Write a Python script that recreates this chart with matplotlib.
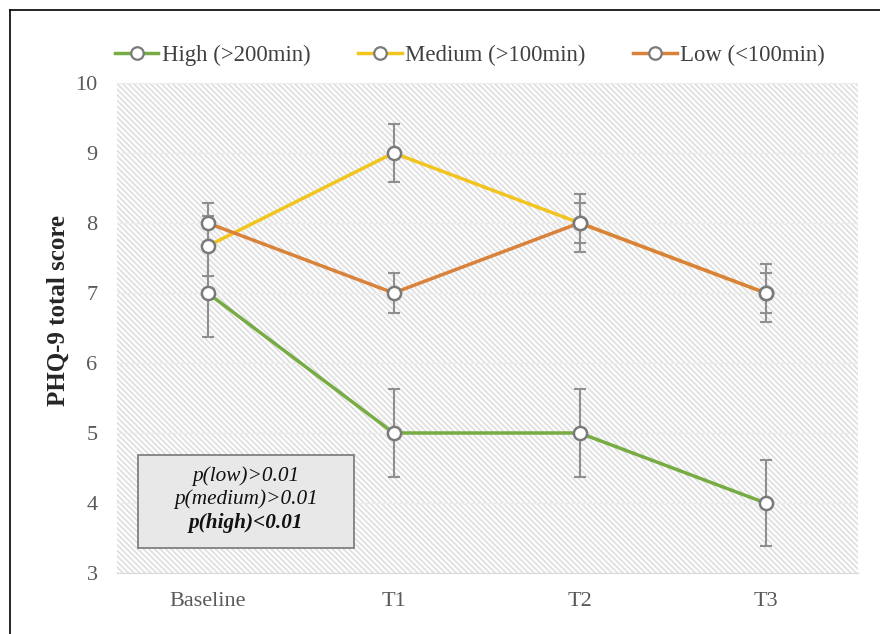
import matplotlib.pyplot as plt
from matplotlib.patches import Rectangle
from matplotlib.lines import Line2D
import numpy as np

categories = ['Baseline', 'T1', 'T2', 'T3']
high = [7, 5, 5, 4]
high_err = [0.63, 0.63, 0.63, 0.62]
medium = [7.67, 9, 8, 7]
medium_err = [0.43, 0.41, 0.41, 0.41]
low = [8, 7, 8, 7]
low_err = [0.29, 0.29, 0.29, 0.29]
labels = ['High (>200min)', 'Medium (>100min)', 'Low (<100min)']
colors = ['#77ab43', '#f2c41f', '#d9823b']

plt.rcParams['font.family'] = ['Liberation Serif', 'DejaVu Serif']
plt.rcParams['hatch.linewidth'] = 1.3


def main():
    fig = plt.figure(figsize=(8.8, 6.34), dpi=100)
    ax = fig.add_axes([0.133, 0.0962, 0.842, 0.773])
    x = np.arange(len(categories))

    # hatched plot area
    ax.add_patch(Rectangle((0, 0), 1, 1, transform=ax.transAxes, facecolor='white',
                           edgecolor='#e0e0e0', hatch='\\\\\\\\\\\\', lw=0, zorder=0))
    for yv in range(3, 11):
        ax.axhline(yv, color='#ececec', lw=1, zorder=0.5)

    series = [(high, high_err), (medium, medium_err), (low, low_err)]
    for vals, errs in series:
        ax.errorbar(x, vals, yerr=errs, fmt='none', ecolor='#8f8f8f', elinewidth=1.5,
                    capsize=4.5, capthick=1.5, zorder=2)
    handles = []
    for i, ((vals, errs), c, lab) in enumerate(zip(series, colors, labels)):
        ax.plot(x, vals, color=c, lw=2.5, zorder=3 + i)
        ax.plot(x, vals, ls='none', marker='o', ms=9.5, mfc='white', mec='#7a7a7a',
                mew=1.8, zorder=6 + i)
        handles.append(Line2D([], [], color=c, lw=2.5, marker='o', ms=9, mfc='white',
                              mec='#7a7a7a', mew=1.6, label=lab))

    ax.set_xlim(-0.487, 3.497)
    ax.set_ylim(3, 10)
    ax.set_xticks(x)
    ax.set_xticklabels(categories)
    ax.set_yticks(range(3, 11))
    ax.tick_params(length=0, labelsize=16, colors='#595959')
    ax.tick_params(axis='y', pad=14)
    ax.tick_params(axis='x', pad=14)
    for s in ['top', 'right', 'left']:
        ax.spines[s].set_visible(False)
    ax.spines['bottom'].set_color('#d9d9d9')
    ax.set_ylabel('PHQ-9 total score', fontsize=18, fontweight='bold', color='#262626')
    ax.yaxis.set_label_coords(-0.064, 0.535)

    # p-value box
    ax.add_patch(Rectangle((-0.374, 3.357), 1.16, 1.33, facecolor='#e8e8e8',
                           edgecolor='#808080', lw=1.3, zorder=10))
    bx = 0.206
    ax.text(bx, 4.39, 'p(low)>0.01', ha='center', va='center', fontsize=15.3,
            style='italic', color='#111111', zorder=11)
    ax.text(bx, 4.05, 'p(medium)>0.01', ha='center', va='center', fontsize=15.3,
            style='italic', color='#111111', zorder=11)
    ax.text(bx, 3.72, 'p(high)<0.01', ha='center', va='center', fontsize=15.3,
            style='italic', fontweight='bold', color='#111111', zorder=11)

    fig.legend(handles=handles, loc='center', bbox_to_anchor=(0.534, 0.913), ncol=3,
               frameon=False, fontsize=16.4, handlelength=1.9, handletextpad=0.15,
               columnspacing=2.1, labelcolor='#404040')

    # outer frame (left and top)
    fig.add_artist(Line2D([0.0115, 0.0115], [0, 0.985], color='black', lw=1.2,
                          transform=fig.transFigure))
    fig.add_artist(Line2D([0.0115, 1], [0.985, 0.985], color='black', lw=1.2,
                          transform=fig.transFigure))

    fig.savefig('out.png', dpi=100)
    plt.close()


if __name__ == '__main__':
    main()
